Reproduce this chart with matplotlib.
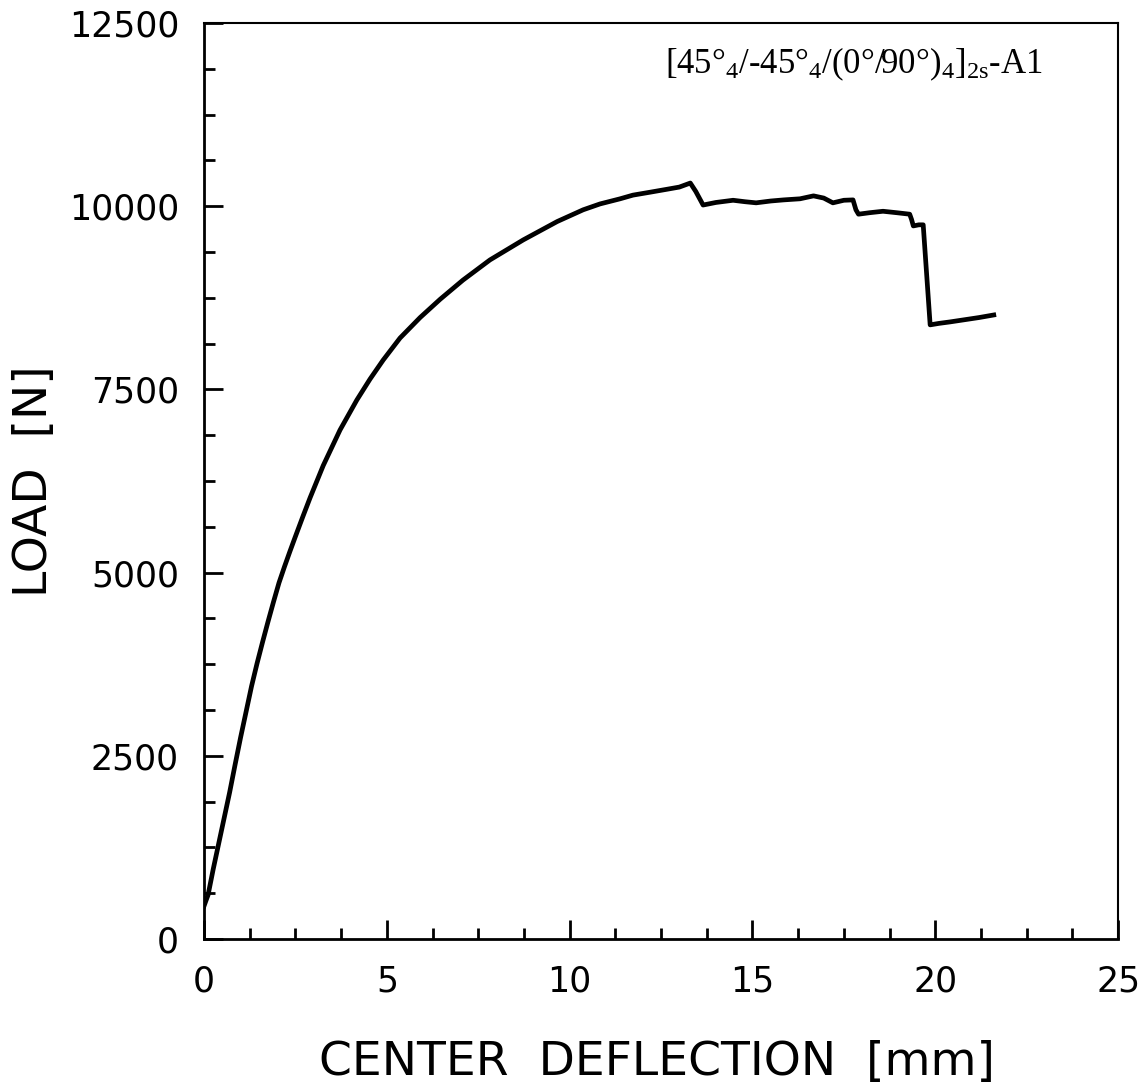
import numpy as np
import matplotlib.pyplot as plt
from matplotlib.ticker import MultipleLocator

plt.rcParams['mathtext.fontset'] = 'custom'
plt.rcParams['mathtext.rm'] = 'Liberation Serif'
plt.rcParams['mathtext.it'] = 'Liberation Serif'

# load-deflection curve
defl = [0.0, 0.05, 0.11, 0.25, 0.4, 0.55, 0.7, 0.85, 1.0, 1.15, 1.3, 1.45, 1.6, 1.75,
        1.9, 2.05, 2.2, 2.35, 2.49, 2.7, 2.9, 3.26, 3.72, 4.18, 4.54, 4.9, 5.36, 5.91,
        6.46, 7.08, 7.82, 8.73, 9.66, 10.37, 10.83, 11.38, 11.73,
        12.2, 12.66, 13.0, 13.3, 13.45, 13.65, 14.0, 14.47, 14.8, 15.1, 15.5, 15.85,
        16.3, 16.67, 16.95, 17.2, 17.5, 17.75, 17.83, 17.9, 18.2, 18.57, 18.95, 19.3,
        19.35, 19.4, 19.55, 19.67, 19.86, 20.1, 20.4, 20.8, 21.2, 21.6]
load = [450, 520, 600, 950, 1300, 1650, 2000, 2380, 2750, 3100, 3450, 3760, 4050, 4330,
        4600, 4860, 5080, 5290, 5480, 5760, 6020, 6460, 6946, 7355, 7640, 7900, 8200, 8480,
        8730, 8990, 9266, 9539, 9790, 9950, 10030, 10100, 10150,
        10190, 10230, 10260, 10315, 10200, 10015, 10050, 10080, 10060, 10045, 10070, 10085,
        10100, 10140, 10110, 10045, 10080, 10085, 9950, 9890, 9910, 9930, 9910, 9890,
        9820, 9730, 9745, 9745, 8380, 8400, 8420, 8450, 8480, 8515]

xmax = 25
ymax = 12500
xticks = [0, 5, 10, 15, 20, 25]
yticks = [0, 2500, 5000, 7500, 10000, 12500]
label_text = r'[45°$_4$/-45°$_4$/(0°/90°)$_4$]$_{\rm 2s}$-A1'

fig = plt.figure(figsize=(11.43, 10.91), dpi=100)
ax = fig.add_axes([0.1785, 0.1393, 0.7997, 0.8397])

ax.plot(defl, load, color='black', lw=3.4, solid_joinstyle='round')

ax.set_xlim(0, xmax)
ax.set_ylim(0, ymax)
ax.set_xticks(xticks)
ax.set_yticks(yticks)
ax.xaxis.set_minor_locator(MultipleLocator(1.25))
ax.yaxis.set_minor_locator(MultipleLocator(625))
ax.tick_params(which='both', direction='in', top=False, right=False, width=2, labelsize=25)
ax.tick_params(which='major', length=14)
ax.tick_params(which='minor', length=8)
ax.tick_params(axis='x', pad=18)
ax.tick_params(axis='y', pad=18)

ax.spines['left'].set_linewidth(2)
ax.spines['bottom'].set_linewidth(2)
ax.spines['top'].set_linewidth(1.5)
ax.spines['right'].set_linewidth(1.5)

ax.set_xlabel('CENTER  DEFLECTION  [mm]', fontsize=34, va='center')
ax.xaxis.set_label_coords(0.495, -0.135)
ax.set_ylabel('LOAD  [N]', fontsize=34, va='center')
ax.yaxis.set_label_coords(-0.185, 0.5)

ax.text(0.917, 0.945, label_text, transform=ax.transAxes, ha='right', va='baseline',
        fontsize=25, family='Liberation Serif')

fig.savefig('out.png', dpi=100)
